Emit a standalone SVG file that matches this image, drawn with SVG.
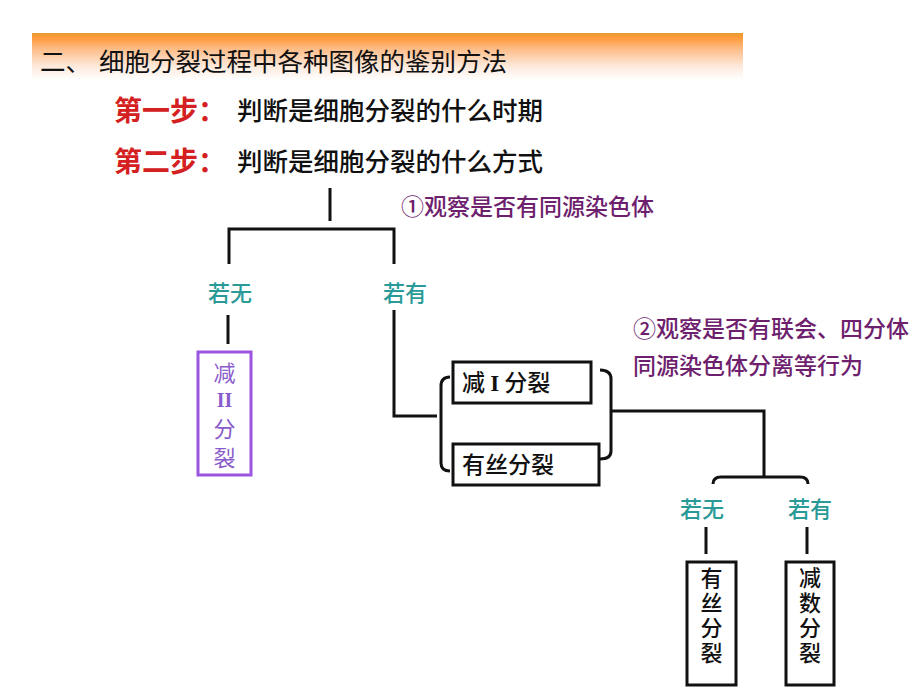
<svg xmlns="http://www.w3.org/2000/svg" width="920" height="690" viewBox="0 0 920 690">
<defs>
<linearGradient id="band" x1="0" y1="0" x2="0" y2="1">
<stop offset="0" stop-color="#E39A2C"/>
<stop offset="0.1" stop-color="#FF9A3A"/>
<stop offset="0.35" stop-color="#FDBE8A"/>
<stop offset="0.7" stop-color="#FDE8DA"/>
<stop offset="1" stop-color="#FFFFFF"/>
</linearGradient>
</defs>
<style>
text{font-family:"Noto Sans CJK SC","Liberation Sans",sans-serif;}
.title{font-size:25.5px;fill:#111;font-weight:400;}
.step{font-size:28px;fill:#D42020;font-weight:700;}
.q{font-size:25.5px;fill:#111;font-weight:500;}
.note{font-size:23px;fill:#6E1F6E;font-weight:500;}
.teal{font-size:22px;fill:#2A9A98;font-weight:500;}
.box{fill:#fff;stroke:#111;stroke-width:3;}
.pbox{fill:#fff;stroke:#9B55E0;stroke-width:3;}
.btxt{font-size:23px;fill:#111;font-weight:500;}
.vtxt{font-size:22px;fill:#111;font-weight:500;writing-mode:vertical-rl;letter-spacing:3px;}
.ptxt{font-size:22px;fill:#8A5CCB;text-anchor:middle;}
.pvtxt{font-size:22px;fill:#8A5CCB;writing-mode:vertical-rl;letter-spacing:7px;}
.line{fill:none;stroke:#111;stroke-width:3;}
</style>
<rect width="920" height="690" fill="#fff"/>
<g id="header">
<rect x="32" y="33" width="711" height="47" fill="url(#band)"/>
<text class="title" x="40" y="71">二、<tspan dx="8">细胞分裂过程中各种图像的鉴别方法</tspan></text>
</g>
<g id="step1">
<text class="step" x="114" y="121">第一步：</text>
<text class="q" x="237" y="120">判断是细胞分裂的什么时期</text>
</g>
<g id="step2">
<text class="step" x="114" y="172">第二步：</text>
<text class="q" x="237" y="171">判断是细胞分裂的什么方式</text>
</g>
<g id="note1"><text class="note" x="401" y="215">①观察是否有同源染色体</text></g>
<g id="label-no1"><text class="teal" x="208" y="301">若无</text></g>
<g id="label-yes1"><text class="teal" x="383" y="301">若有</text></g>
<g id="box-meiosis2">
<rect class="pbox" x="198" y="352" width="53" height="123"/>
<text class="ptxt" x="224.5" y="381">减</text>
<text x="224.5" y="407" text-anchor="middle" style="font-family:'Liberation Serif',serif;font-size:20px;font-weight:700;fill:#8A5CCB">II</text>
<text class="pvtxt" x="224.5" y="418">分裂</text>
</g>
<g id="note2">
<text class="note" x="633" y="337">②观察是否有联会、四分体</text>
<text class="note" x="633" y="374">同源染色体分离等行为</text>
</g>
<g id="box-meiosis1">
<rect class="box" x="453" y="362" width="138" height="41"/>
<text class="btxt" x="462" y="391">减 <tspan style="font-family:'Liberation Serif',serif;font-weight:700">I</tspan> 分裂</text>
</g>
<g id="box-mitosis-option">
<rect class="box" x="453" y="444" width="146" height="41"/>
<text class="btxt" x="462" y="473">有丝分裂</text>
</g>
<g id="label-no2"><text class="teal" x="680" y="517">若无</text></g>
<g id="label-yes2"><text class="teal" x="788" y="517">若有</text></g>
<g id="box-mitosis">
<rect class="box" x="687" y="562" width="49" height="123"/>
<text class="vtxt" x="711.5" y="567">有丝分裂</text>
</g>
<g id="box-meiosis">
<rect class="box" x="786" y="562" width="48" height="123"/>
<text class="vtxt" x="810" y="567">减数分裂</text>
</g>
<g id="connectors">
<path class="line" d="M330 188 V221"/>
<path class="line" d="M229 264 V229 H394 V264"/>
<path class="line" d="M228 315 V344"/>
<path class="line" d="M394 310 V416 H437"/>
<path class="line" d="M450 377 Q441 377 441 386 V463 Q441 471 450 471"/>
<path class="line" d="M600 370 Q611 370 611 379 V451 Q611 459 600 459"/>
<path class="line" d="M611 411 H764 V477"/>
<path class="line" d="M713 484 Q713 477 721 477 H800 Q808 477 808 484"/>
<path class="line" d="M706 527 V554"/>
<path class="line" d="M807 527 V554"/>
</g>
</svg>
